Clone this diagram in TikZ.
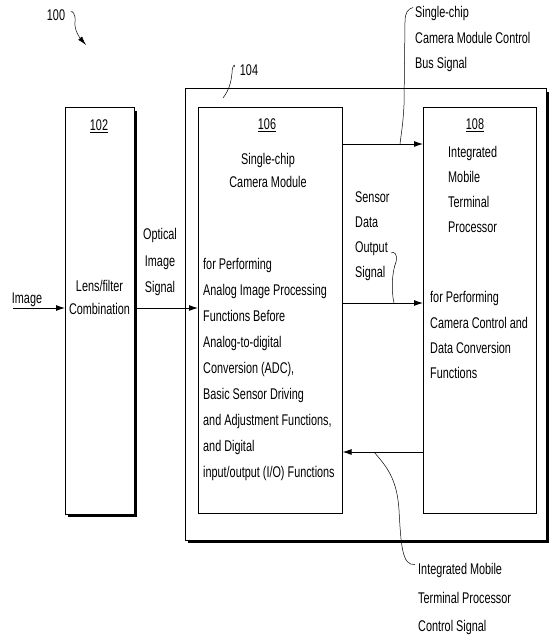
\documentclass[tikz,border=0pt]{standalone}
\usepackage{fontspec}
\setmainfont[FakeStretch=0.7]{Liberation Sans}
\usetikzlibrary{arrows.meta}
\begin{document}
\begin{tikzpicture}[x=1pt,y=-1pt,
  box/.style={draw, line width=0.6pt, anchor=north west, inner sep=0pt},
  shadow/.style={line width=2.6pt},
  lbl/.style={inner sep=0pt, anchor=north west, align=left},
  clbl/.style={inner sep=0pt, anchor=north, align=center},
  arr/.style={line width=0.9pt, -{Latex[length=9pt,width=6pt]}},
  lead/.style={line width=0.5pt},
  every node/.style={font=\fontsize{15.5}{26}\selectfont}]
\useasboundingbox (0,0) rectangle (552,640);

% boxes
\node[box, minimum width=69pt, minimum height=407pt] (b102) at (65,107) {};
\draw[shadow] ([shift={(1.3,4)}]b102.north east) |- ([shift={(3,1.3)}]b102.south west);
\node[box, minimum width=361pt, minimum height=452pt] (b104) at (185,88) {};
\draw[shadow] ([shift={(1.3,4)}]b104.north east) |- ([shift={(3,1.3)}]b104.south west);
\node[box, minimum width=144pt, minimum height=406pt] (b106) at (198,107) {};
\node[box, minimum width=113pt, minimum height=406pt] (b108) at (423,107) {};

% numbers
\node (n100) at (56,15) {100};
\node (n104) at (249,70) {104};
\node (n102) at (99,126) {\underline{102}};
\node (n106) at (267,125) {\underline{106}};
\node (n108) at (475,125) {\underline{108}};

% box texts
\node[clbl, font=\fontsize{15.5}{23}\selectfont] (t102) at (99.5,280.5) {Lens/filter\\Combination};
\node[clbl, font=\fontsize{15.5}{23}\selectfont] (t106a) at (268,153.5) {Single-chip\\Camera Module};
\node[lbl, font=\fontsize{15.5}{26}\selectfont] (t106b) at (203,258.5) {for Performing\\Analog Image Processing\\Functions Before\\Analog-to-digital\\Conversion (ADC),\\Basic Sensor Driving\\and Adjustment Functions,\\and Digital\\input/output (I/O) Functions};
\node[lbl, font=\fontsize{15.5}{25}\selectfont] (t108a) at (448,146.5) {Integrated\\Mobile\\Terminal\\Processor};
\node[lbl, font=\fontsize{15.5}{25.3}\selectfont] (t108b) at (430,291.5) {for Performing\\Camera Control and\\Data Conversion\\Functions};

% signal labels
\node[anchor=base] (limg) at (27,303.5) {Image};
\node[clbl, font=\fontsize{15.5}{26.5}\selectfont] (lopt) at (160,228.5) {Optical\\Image\\Signal};
\node[lbl, font=\fontsize{15.5}{25}\selectfont] (lsens) at (355,191.5) {Sensor\\Data\\Output\\Signal};
\node[lbl, font=\fontsize{15.5}{25.5}\selectfont] (lbus) at (415,6.5) {Single-chip\\Camera Module Control\\Bus Signal};
\node[lbl, font=\fontsize{15.5}{28.5}\selectfont] (lctl) at (418,563.5) {Integrated Mobile\\Terminal Processor\\Control Signal};

% arrows
\coordinate (imgsrc) at (13,308);
\draw[arr] (imgsrc) -- (imgsrc -| b102.west);
\draw[arr] ([xshift=2.5pt]b102.east |- imgsrc) -- (b106.west |- imgsrc);
\coordinate (busy) at (0,144);
\draw[arr] (b106.east |- busy) -- (b108.west |- busy);
\coordinate (sdy) at (0,303);
\draw[arr] (b106.east |- sdy) -- (b108.west |- sdy);
\coordinate (cty) at (0,452);
\draw[arr] (b108.west |- cty) -- (b106.east |- cty);

% leaders
\coordinate (sensend) at (391,253);
\draw[lead, -{Latex[length=9pt,width=5pt]}] ([xshift=2pt,yshift=3pt]n100.east) .. controls (72,10) and (76,14) .. (75,22) .. controls (74,30) and (80,38) .. (86,45);
\draw[lead] ([xshift=-2pt,yshift=3pt]n104.west) .. controls (235,63) and (232,66) .. (232,73) .. controls (231,83) and (229,90) .. (223,98);
\draw[lead] ([xshift=-2pt,yshift=-1pt]lbus.north west) .. controls (408,9) and (405,12) .. (405,22) -- (404,105) .. controls (403,125) and (401,135) .. (400,144);
\draw[lead] (sensend) .. controls (394,251) and (398,254) .. (396,262) .. controls (392,272) and (391,290) .. (394,303);
\draw[lead] (374,452) .. controls (386,466) and (397,478) .. (399,510) .. controls (401,545) and (402,566) .. ([xshift=-3pt,yshift=-1pt]lctl.north west);
\end{tikzpicture}
\end{document}
